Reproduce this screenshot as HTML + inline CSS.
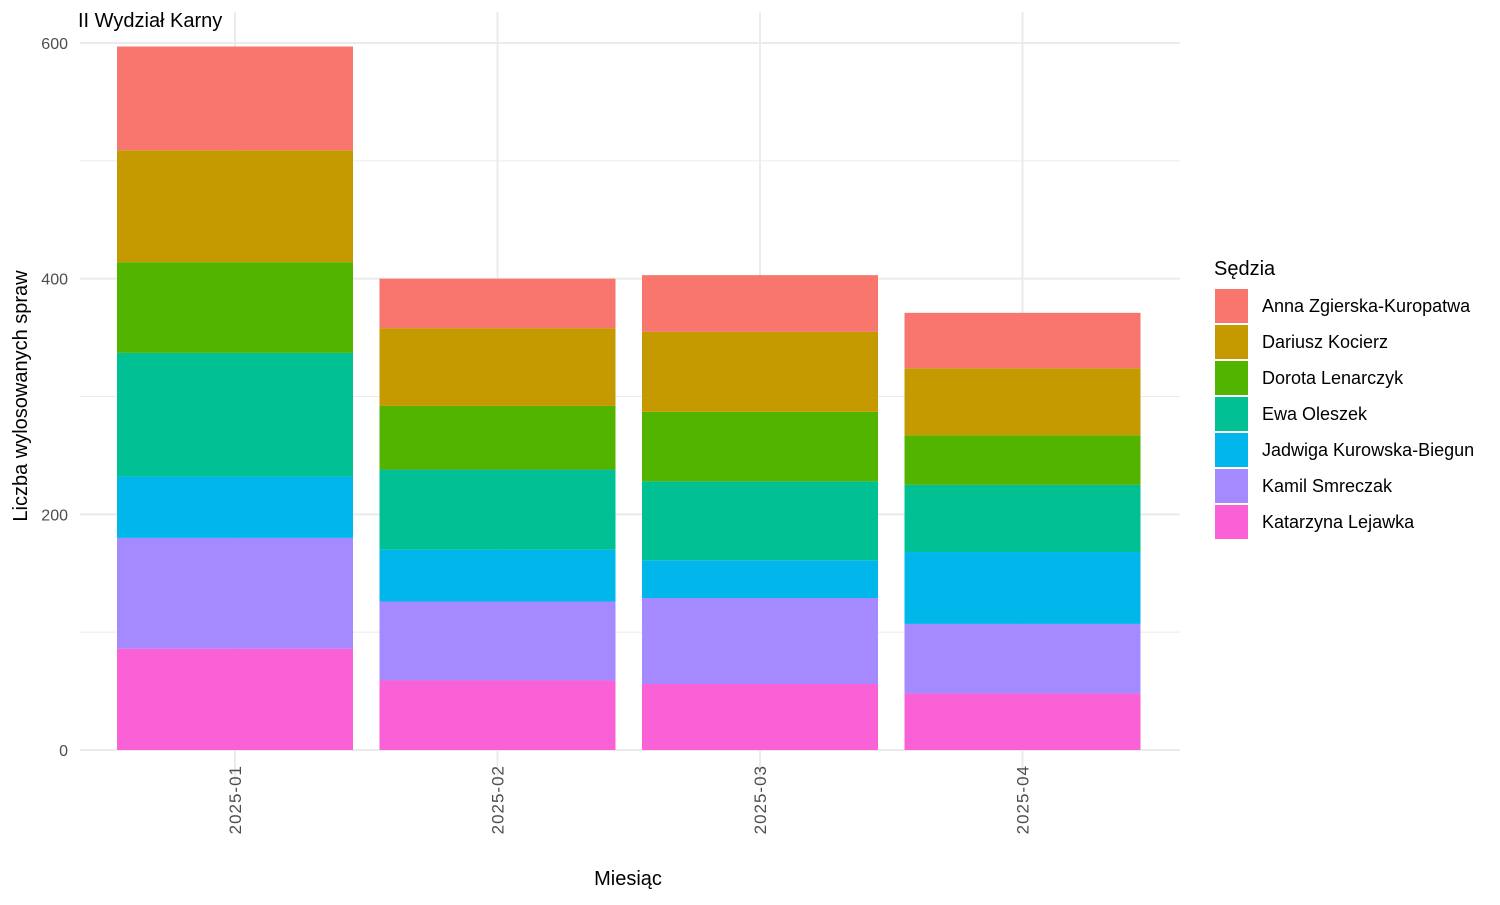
<!DOCTYPE html>
<html><head><meta charset="utf-8">
<style>
body{margin:0;background:#fff;font-family:"Liberation Sans","Noto Sans CJK SC",sans-serif;}
svg text{font-family:"Liberation Sans","Noto Sans CJK SC",sans-serif;}
</style></head>
<body>
<svg id="chart" width="1500" height="900" xmlns="http://www.w3.org/2000/svg">
<g id="grid"></g>
<g id="bars"></g>
<g id="axes"></g>
<text x="78" y="27" font-size="20" fill="#000">II Wydział Karny</text>
<text x="628" y="885" font-size="20" text-anchor="middle" fill="#000">Miesiąc</text>
<text transform="translate(27,396) rotate(-90)" font-size="20" text-anchor="middle" fill="#000">Liczba wylosowanych spraw</text>
<g id="legend"></g>
</svg>
<script>
const categories = ["2025-01","2025-02","2025-03","2025-04"];
const judges = ["Anna Zgierska-Kuropatwa","Dariusz Kocierz","Dorota Lenarczyk","Ewa Oleszek","Jadwiga Kurowska-Biegun","Kamil Smreczak","Katarzyna Lejawka"];
const colors = ["#F8766D","#C49A00","#53B400","#00C094","#00B6EB","#A58AFF","#FB61D7"];
const annaVals = [88,42,48,47];
const dariuszVals = [95,66,68,57];
const dorotaVals = [77,54,59,42];
const ewaVals = [105,68,67,57];
const jadwigaVals = [52,44,32,61];
const kamilVals = [94,67,73,59];
const katarzynaVals = [86,59,56,48];
const series = [annaVals,dariuszVals,dorotaVals,ewaVals,jadwigaVals,kamilVals,katarzynaVals];
const yTicks = [0,200,400,600];
const yMinor = [100,300,500];

const NS="http://www.w3.org/2000/svg";
const px0=80, px1=1180, py0=750, pyTop=43;
const y = v => py0 - v*(py0-pyTop)/600;
const step = 262.5;
const x = i => 235 + step*i;
const bw = 236;
function mk(tag, parent, attrs){const e=document.createElementNS(NS,tag);for(const k in attrs)e.setAttribute(k,attrs[k]);parent.appendChild(e);return e;}

const grid=document.getElementById('grid');
yMinor.forEach(v=>{const l=mk('line',grid,{x1:px0,x2:px1,y1:y(v),y2:y(v),stroke:'#ebebeb','stroke-width':1});

});
yTicks.forEach(v=>{const l=mk('line',grid,{x1:px0,x2:px1,y1:y(v),y2:y(v),stroke:'#ebebeb','stroke-width':2});

});
categories.forEach((c,i)=>{const l=mk('line',grid,{x1:x(i),x2:x(i),y1:12,y2:783,stroke:'#ebebeb','stroke-width':2});

});

const bars=document.getElementById('bars');
categories.forEach((c,i)=>{
  let cum=0;
  for(let s=series.length-1;s>=0;s--){
    const v=series[s][i];
    const r=mk('rect',bars,{x:x(i)-bw/2,y:y(cum+v),width:bw,height:y(cum)-y(cum+v),fill:colors[s]});
    
    
    cum+=v;
  }
});

const axes=document.getElementById('axes');
yTicks.forEach(v=>{const t=mk('text',axes,{x:68,y:y(v)+6,'font-size':16,'text-anchor':'end',fill:'#4d4d4d'});t.textContent=v;

});
categories.forEach((c,i)=>{const t=mk('text',axes,{transform:`translate(${x(i)+6},765) rotate(-90)`,'font-size':17,'letter-spacing':1,'text-anchor':'end',fill:'#4d4d4d'});t.textContent=c;

});

const lg=document.getElementById('legend');
const lt=mk('text',lg,{x:1214,y:275,'font-size':20,fill:'#000'});lt.textContent='Sędzia';


judges.forEach((j,k)=>{
  const yy=289+k*36;
  const r=mk('rect',lg,{x:1215,y:yy,width:33,height:34,fill:colors[k]});
  
  
  const t=mk('text',lg,{x:1262,y:yy+23,'font-size':18,fill:'#000'});t.textContent=j;
  
  
});
</script>
</body></html>
